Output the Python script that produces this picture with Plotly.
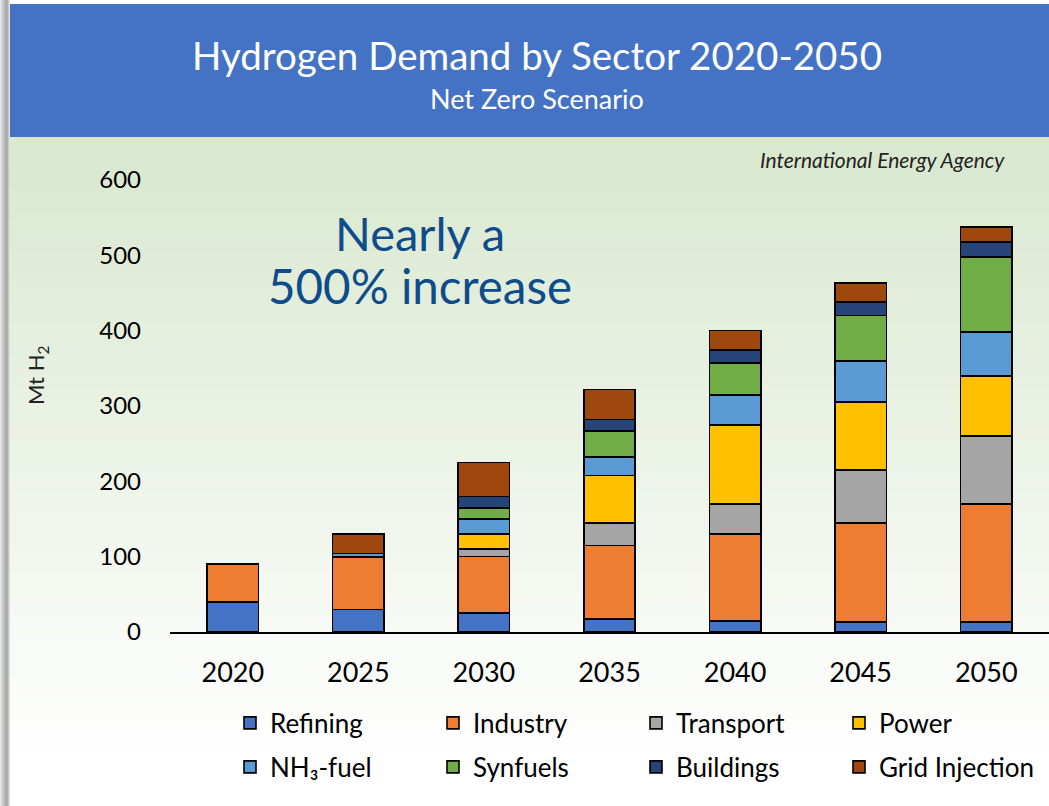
import plotly.graph_objects as go

years = ["2020", "2025", "2030", "2035", "2040", "2045", "2050"]
sectors = ["Refining", "Industry", "Transport", "Power", "NH₃-fuel", "Synfuels", "Buildings", "Grid Injection"]
colors = ["#4472C4", "#ED7D31", "#A5A5A5", "#FFC000", "#5B9BD5", "#70AD47", "#264478", "#9E480E"]

refining = [40, 30, 25, 17, 15, 13, 13]
industry = [50, 69, 75, 98, 115, 132, 157]
transport = [0, 1, 10, 30, 40, 70, 90]
power = [0, 0, 20, 63, 105, 90, 80]
nh3_fuel = [0, 4, 20, 24, 40, 55, 58]
synfuels = [0, 0, 15, 35, 42, 60, 100]
buildings = [0, 0, 15, 15, 17, 18, 20]
grid_injection = [0, 26, 45, 40, 26, 25, 20]

series = [refining, industry, transport, power, nh3_fuel, synfuels, buildings, grid_injection]

W, H = 1049, 806
L, R, T, B = 170, 0, 180, 174
PW, PH = W - L - R, H - T - B


def px(xp):
    return (xp - L) / PW


def py(yp):
    return 1 - (yp - T) / PH


fig = go.Figure()
for i, (name, vals, col) in enumerate(zip(sectors, series, colors)):
    fig.add_trace(go.Bar(
        x=years, y=vals, name=name,
        legend="legend" if i < 4 else "legend2",
        marker=dict(color=col, line=dict(color="#000000", width=1.6)),
    ))

shapes = []
# gradient background (green to white)
top, bot = 137, 760
n = 60
c0 = (217, 232, 207)
c1 = (255, 255, 255)
for i in range(n):
    t = i / (n - 1)
    r = int(c0[0] + (c1[0] - c0[0]) * t)
    g = int(c0[1] + (c1[1] - c0[1]) * t)
    b = int(c0[2] + (c1[2] - c0[2]) * t)
    y0 = top + (bot - top) * i / n
    y1 = top + (bot - top) * (i + 1) / n + 1
    shapes.append(dict(type="rect", xref="paper", yref="paper",
                       x0=px(10), x1=px(W + 5), y0=py(y1), y1=py(y0),
                       fillcolor=f"rgb({r},{g},{b})", line=dict(width=0), layer="below"))
# header band
shapes.append(dict(type="rect", xref="paper", yref="paper",
                   x0=px(10), x1=px(W + 5), y0=py(137), y1=py(4),
                   fillcolor="#4472C4", line=dict(width=0), layer="below"))
# left gray strip
for i, c in enumerate(["#E6E6E6", "#DADADA", "#D0D0D0", "#C4C4C4", "#B8B8B8", "#ADADAD", "#A8A8A8", "#B0B0B0", "#C8C8C8", "#E0E0E0"]):
    shapes.append(dict(type="rect", xref="paper", yref="paper",
                       x0=px(i), x1=px(i + 1), y0=py(H), y1=py(0),
                       fillcolor=c, line=dict(width=0), layer="below"))

font_family = "Lato, 'Open Sans', sans-serif"


def ann(text, x, y, size, color, xanchor="center", angle=0):
    return dict(text=text, x=px(x), y=py(y), xref="paper", yref="paper", textangle=angle,
                showarrow=False, font=dict(size=size, color=color, family=font_family),
                xanchor=xanchor, yanchor="middle")


annotations = [
    ann("Hydrogen Demand by Sector 2020-2050", 537, 55, 38.5, "white"),
    ann("Net Zero Scenario", 537, 98, 27, "white"),
    ann("<i>International Energy Agency</i>", 1007, 160, 21, "#222222", xanchor="right"),
    ann("Nearly a", 420, 233, 47, "#0E4C8B"),
    ann("500% increase", 420, 285, 47.5, "#0E4C8B"),
    ann("Mt H<sub>2</sub>", 37, 376, 22, "#222222", angle=-90),
]

legend_common = dict(orientation="h", xanchor="left", yanchor="middle",
                     entrywidth=158, entrywidthmode="pixels", traceorder="normal",
                     font=dict(size=26, color="#000000", family=font_family),
                     bgcolor="rgba(0,0,0,0)", itemclick=False, itemdoubleclick=False)

fig.update_layout(
    width=W, height=H,
    barmode="stack", bargap=0.59,
    paper_bgcolor="white", plot_bgcolor="rgba(0,0,0,0)",
    margin=dict(l=L, r=R, t=T, b=B, autoexpand=False),
    font=dict(family=font_family, color="#000000"),
    shapes=shapes, annotations=annotations,
    showlegend=True,
    legend=dict(x=px(230), y=py(723), **legend_common),
    legend2=dict(x=px(230), y=py(767), **legend_common),
    xaxis=dict(type="category", showline=True, linecolor="#000000", linewidth=1.5,
               tickfont=dict(size=27, color="#000000"), ticks="", showgrid=False, ticklabelstandoff=16),
    yaxis=dict(range=[0, 600], tickvals=[0, 100, 200, 300, 400, 500, 600], showgrid=False,
               zeroline=False, showline=False, tickfont=dict(size=24, color="#000000"), ticklabelstandoff=28),
)

fig.write_html("out.html", config={"displayModeBar": False},
               post_script="document.body.style.margin='0px';")
